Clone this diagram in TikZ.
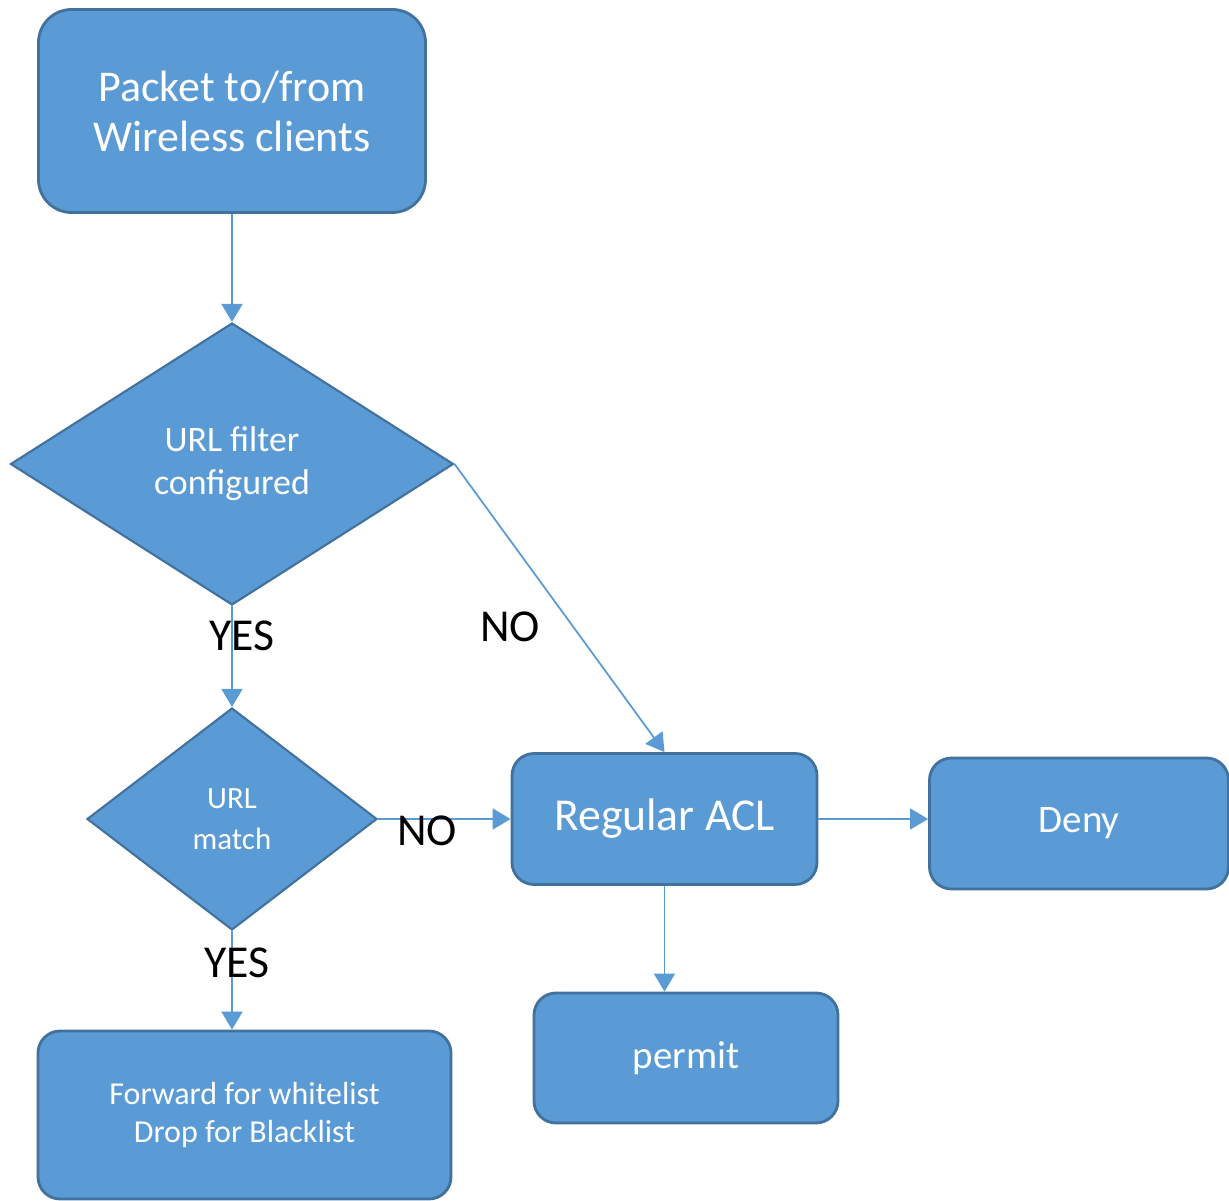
\documentclass[tikz,border=0pt]{standalone}
\usepackage{fontspec}
\setmainfont{Carlito}
\usetikzlibrary{shapes.geometric,arrows.meta}
\definecolor{boxblue}{HTML}{5B9BD5}
\definecolor{edgeblue}{HTML}{41719C}
\tikzset{
  box/.style={rectangle, rounded corners=0.22cm, draw=edgeblue, line width=0.8pt,
    fill=boxblue, text=white, align=center, inner sep=0pt},
  decision/.style={diamond, draw=edgeblue, line width=0.6pt, fill=boxblue,
    text=white, align=center, inner sep=0pt},
  lbl/.style={text=black, inner sep=0pt, font=\fontsize{13pt}{15pt}\selectfont},
  flow/.style={draw=boxblue, line width=0.5pt, -{Triangle[length=1.8mm, width=2.1mm]}}
}
\begin{document}
\begin{tikzpicture}
  \useasboundingbox (0,0) rectangle (12.29,-12.01);

  \node[box, rounded corners=0.33cm, minimum width=3.87cm, minimum height=2.03cm,
    font=\fontsize{12.5pt}{14.2pt}\selectfont] (pkt) at (2.32,-1.11)
    {Packet to/from\\Wireless clients};
  \node[decision, minimum width=4.43cm, minimum height=2.82cm,
    font=\fontsize{10.2pt}{12.2pt}\selectfont] (filt) at (2.32,-4.64)
    {URL filter\\configured};
  \node[decision, minimum width=2.90cm, minimum height=2.22cm,
    font=\fontsize{8.8pt}{11.7pt}\selectfont] (match) at (2.32,-8.19)
    {URL\\match};
  \node[box, minimum width=3.05cm, minimum height=1.31cm,
    font=\fontsize{13pt}{15pt}\selectfont] (acl) at (6.645,-8.19) {Regular ACL};
  \node[box, minimum width=2.99cm, minimum height=1.31cm,
    font=\fontsize{11.1pt}{13pt}\selectfont] (deny) at (10.79,-8.235) {Deny};
  \node[box, minimum width=3.04cm, minimum height=1.30cm,
    font=\fontsize{11.1pt}{13pt}\selectfont] (permit) at (6.86,-10.58) {permit};
  \node[box, minimum width=4.13cm, minimum height=1.68cm,
    font=\fontsize{9.1pt}{10.8pt}\selectfont] (fwd) at (2.445,-11.15)
    {Forward for whitelist\\Drop for Blacklist};

  \draw[flow] (pkt.south) -- (filt.north);
  \draw[flow] (filt.south) -- (match.north);
  \draw[flow] (filt.east) -- (acl.north);
  \draw[flow] (match.east) -- (acl.west);
  \draw[flow] (acl.east) -- (acl.east -| deny.west);
  \draw[flow] (acl.south) -- (acl.south |- permit.north);
  \draw[flow] (match.south) -- (match.south |- fwd.north);

  \node[lbl] (yes1) at (2.42,-6.36) {YES};
  \node[lbl] (no1) at (5.10,-6.27) {NO};
  \node[lbl] (no2) at (4.27,-8.31) {NO};
  \node[lbl] (yes2) at (2.37,-9.63) {YES};
\end{tikzpicture}
\end{document}
